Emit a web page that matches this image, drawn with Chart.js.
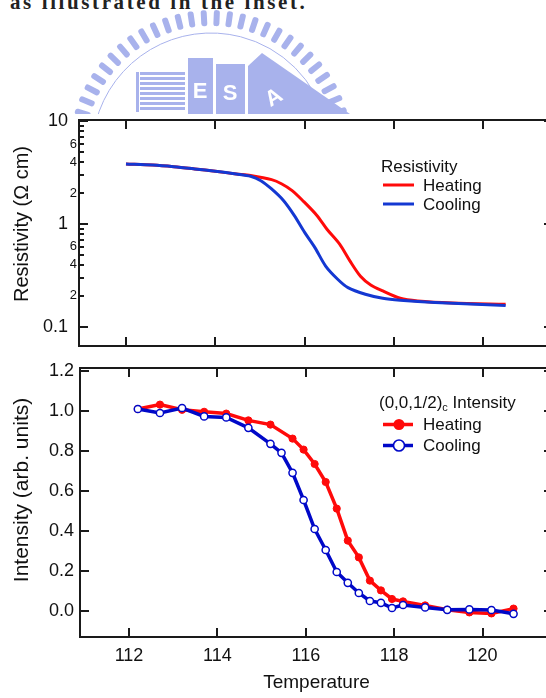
<!DOCTYPE html>
<html>
<head>
<meta charset="utf-8">
<script src="https://cdn.jsdelivr.net/npm/chart.js@4.4.1/dist/chart.umd.min.js"></script>
<style>
  html, body { margin: 0; padding: 0; background: #fff; overflow: hidden; }
  body { width: 546px; height: 698px; position: relative; }
  canvas { position: absolute; left: 0; }
  #caption {
    position: absolute; left: 10px; top: -10px; white-space: nowrap; letter-spacing: 2.6px;
    font: bold 21px "Liberation Serif", serif; color: #222;
  }
</style>
</head>
<body>
<div id="caption">as illustrated in the inset.</div>
<canvas id="logo" width="546" height="114" style="top:0"></canvas>
<canvas id="resChart" width="560" height="250" style="top:100px"></canvas>
<canvas id="intChart" width="560" height="338" style="top:360px"></canvas>

<script>
// ---- resistivity (upper panel) ----
const resHeatT = [112.0, 112.6, 113.07, 113.54, 114.0, 114.47, 114.79, 115.26, 115.49, 115.72, 115.96, 116.27, 116.5, 116.78, 117.01, 117.25, 117.48, 117.75, 118.14, 118.53, 119.31, 120.5];
const resHeat  = [3.86, 3.77, 3.63, 3.45, 3.27, 3.08, 2.97, 2.71, 2.46, 2.12, 1.69, 1.22, 0.89, 0.64, 0.44, 0.31, 0.255, 0.223, 0.189, 0.178, 0.170, 0.165];
const resCoolT = [112.0, 112.6, 113.07, 113.54, 114.0, 114.47, 114.79, 115.02, 115.26, 115.53, 115.77, 116.0, 116.23, 116.47, 116.74, 116.97, 117.36, 117.75, 118.14, 118.92, 120.5];
const resCool  = [3.86, 3.77, 3.63, 3.45, 3.27, 3.08, 2.93, 2.65, 2.20, 1.69, 1.21, 0.83, 0.59, 0.39, 0.29, 0.24, 0.207, 0.189, 0.181, 0.172, 0.161];

// ---- (0,0,1/2) intensity (lower panel) ----
const intHeatT = [112.2, 112.7, 113.2, 113.7, 114.2, 114.7, 115.2, 115.7, 115.95, 116.2, 116.45, 116.7, 116.95, 117.2, 117.45, 117.7, 117.95, 118.2, 118.7, 119.2, 119.7, 120.2, 120.7];
const intHeat  = [1.012, 1.034, 1.008, 0.998, 0.989, 0.955, 0.934, 0.864, 0.809, 0.737, 0.647, 0.514, 0.354, 0.270, 0.154, 0.105, 0.062, 0.050, 0.030, 0.008, -0.005, -0.010, 0.014];
const intCoolT = [112.2, 112.7, 113.2, 113.7, 114.2, 114.7, 115.2, 115.45, 115.7, 115.95, 116.2, 116.45, 116.7, 116.95, 117.2, 117.45, 117.7, 117.95, 118.2, 118.7, 119.2, 119.7, 120.2, 120.7];
const intCool  = [1.012, 0.992, 1.017, 0.975, 0.970, 0.918, 0.838, 0.793, 0.693, 0.557, 0.412, 0.307, 0.197, 0.143, 0.092, 0.052, 0.043, 0.017, 0.032, 0.020, 0.008, 0.010, 0.007, -0.012];

// ---- axes ----
const tempTicks = [112, 114, 116, 118, 120];
const resTicks = [0.1, 0.2, 0.3, 0.4, 0.5, 0.6, 0.7, 0.8, 0.9, 1, 2, 3, 4, 5, 6, 7, 8, 9, 10];
const resMajor = [0.1, 1, 10];
const resMinorLabels = [0.2, 0.4, 0.6, 2, 4, 6];
const intTicks = [0, 0.2, 0.4, 0.6, 0.8, 1.0, 1.2];

const RED = '#ff0a0a';
const BLUE_RES = '#1438d2';
const BLUE_INT = '#0008c8';
const INK = '#1a1a1a';
const FONT = "'Liberation Sans', Arial, sans-serif";

Chart.defaults.font.family = FONT;
Chart.defaults.color = '#111';
Chart.defaults.animation = false;

const pts = (xs, ys) => xs.map((x, i) => ({ x, y: ys[i] }));

// inward tick marks on all four sides plus the top frame line
const frameTicks = {
  id: 'frameTicks',
  afterDraw(chart) {
    const { ctx, chartArea: a, scales } = chart;
    ctx.save();
    ctx.strokeStyle = INK;
    ctx.lineWidth = 2;
    const seg = (x1, y1, x2, y2) => {
      ctx.beginPath(); ctx.moveTo(x1, y1); ctx.lineTo(x2, y2); ctx.stroke();
    };
    seg(a.left - 1, a.top, a.right, a.top);
    scales.x.ticks.forEach(t => {
      const px = Math.round(scales.x.getPixelForValue(t.value));
      seg(px, a.bottom, px, a.bottom - 9);
      seg(px, a.top, px, a.top + 9);
    });
    scales.y.ticks.forEach(t => {
      const py = Math.round(scales.y.getPixelForValue(t.value));
      const len = t.minor ? 5 : 9;
      seg(a.left, py, a.left + len, py);
      seg(a.right, py, a.right - len, py);
    });
    ctx.restore();
  }
};

function fixedWidth(w) {
  return (s) => { s.width = w; s.paddingTop = 0; s.paddingBottom = 0; };
}
function fixedHeight(h) {
  return (s) => { s.height = h; s.paddingLeft = 0; s.paddingRight = 0; };
}

function yTitle(chart, text, x, y, size) {
  const ctx = chart.ctx;
  ctx.save();
  ctx.translate(x, y);
  ctx.rotate(-Math.PI / 2);
  ctx.font = `${size}px ${FONT}`;
  ctx.fillStyle = '#111';
  ctx.textAlign = 'center';
  ctx.textBaseline = 'middle';
  ctx.fillText(text, 0, 0);
  ctx.restore();
}

// ---------------- upper panel ----------------
const resLegend = {
  id: 'resLegend',
  afterDraw(chart) {
    const ctx = chart.ctx;
    yTitle(chart, 'Resistivity (\u03A9 cm)', 22, 124, 20);
    ctx.save();
    ctx.font = `17px ${FONT}`;
    ctx.fillStyle = '#111';
    ctx.textBaseline = 'middle';
    ctx.fillText('Resistivity', 381, 67);
    ctx.fillText('Heating', 423, 86);
    ctx.fillText('Cooling', 423, 105);
    ctx.lineWidth = 3;
    ctx.strokeStyle = RED;
    ctx.beginPath(); ctx.moveTo(383, 85); ctx.lineTo(414, 85); ctx.stroke();
    ctx.strokeStyle = BLUE_RES;
    ctx.beginPath(); ctx.moveTo(383, 104); ctx.lineTo(414, 104); ctx.stroke();
    ctx.restore();
  }
};

new Chart(document.getElementById('resChart'), {
  type: 'line',
  data: {
    datasets: [
      { label: 'Cooling', data: pts(resCoolT, resCool), borderColor: BLUE_RES, borderWidth: 3, pointRadius: 0, tension: 0.3 },
      { label: 'Heating', data: pts(resHeatT, resHeat), borderColor: RED, borderWidth: 3, pointRadius: 0, tension: 0.3 }
    ]
  },
  options: {
    responsive: false,
    layout: { padding: { top: 20, right: 7, left: 0, bottom: 0 } },
    plugins: { legend: { display: false }, tooltip: { enabled: false } },
    scales: {
      x: {
        type: 'linear', min: 110.948, max: 121.561,
        afterBuildTicks: (s) => { s.ticks = tempTicks.map(v => ({ value: v })); },
        afterFit: fixedHeight(4),
        ticks: { display: false },
        grid: { display: false, drawTicks: false },
        border: { display: true, color: INK, width: 2 }
      },
      y: {
        type: 'logarithmic', min: 0.0648, max: 10.34,
        afterBuildTicks: (s) => {
          s.ticks = resTicks.map(v => ({ value: v, minor: !resMajor.includes(v) }));
        },
        afterFit: fixedWidth(79),
        ticks: {
          autoSkip: false,
          padding: 2,
          callback: (v) => {
            if (resMajor.includes(v)) return String(v) + '\u2002';
            if (resMinorLabels.includes(v)) return String(v < 1 ? Math.round(v * 10) : v);
            return '';
          },
          font: (c) => ({ size: c.tick && resMajor.includes(c.tick.value) ? 18 : 13 })
        },
        grid: { display: false, drawTicks: false },
        border: { display: true, color: INK, width: 2 }
      }
    }
  },
  plugins: [frameTicks, resLegend]
});

// ---------------- lower panel ----------------
const intLegend = {
  id: 'intLegend',
  afterDraw(chart) {
    const ctx = chart.ctx;
    yTitle(chart, 'Intensity (arb. units)', 22, 130, 21);
    ctx.save();
    ctx.fillStyle = '#111';
    ctx.textBaseline = 'middle';
    ctx.font = `17px ${FONT}`;
    let x = 379;
    ctx.fillText('(0,0,1/2)', x, 43);
    x += ctx.measureText('(0,0,1/2)').width;
    ctx.font = `11px ${FONT}`;
    ctx.fillText('c', x, 48);
    x += ctx.measureText('c').width;
    ctx.font = `17px ${FONT}`;
    ctx.fillText(' Intensity', x, 43);
    ctx.fillText('Heating', 423, 65);
    ctx.fillText('Cooling', 423, 86);

    ctx.lineWidth = 3.5;
    ctx.strokeStyle = RED;
    ctx.beginPath(); ctx.moveTo(383, 64.5); ctx.lineTo(413, 64.5); ctx.stroke();
    ctx.fillStyle = RED;
    ctx.beginPath(); ctx.arc(399, 64.5, 5.5, 0, Math.PI * 2); ctx.fill();

    ctx.strokeStyle = BLUE_INT;
    ctx.beginPath(); ctx.moveTo(383, 85.5); ctx.lineTo(413, 85.5); ctx.stroke();
    ctx.fillStyle = '#fff';
    ctx.lineWidth = 1.6;
    ctx.beginPath(); ctx.arc(399, 85.5, 5.5, 0, Math.PI * 2); ctx.fill(); ctx.stroke();
    ctx.restore();
  }
};

new Chart(document.getElementById('intChart'), {
  type: 'line',
  data: {
    datasets: [
      {
        label: 'Cooling', data: pts(intCoolT, intCool),
        borderColor: BLUE_INT, borderWidth: 3.5,
        pointRadius: 3.6, pointBackgroundColor: '#fff', pointBorderColor: BLUE_INT, pointBorderWidth: 1.5
      },
      {
        label: 'Heating', data: pts(intHeatT, intHeat),
        borderColor: RED, borderWidth: 3.5,
        pointRadius: 3.6, pointBackgroundColor: RED, pointBorderColor: RED, pointBorderWidth: 1
      }
    ]
  },
  options: {
    responsive: false,
    layout: { padding: { top: 8, right: 7, left: 0, bottom: 0 } },
    plugins: { legend: { display: false }, tooltip: { enabled: false } },
    scales: {
      x: {
        type: 'linear', min: 110.891, max: 121.593,
        afterBuildTicks: (s) => { s.ticks = tempTicks.map(v => ({ value: v })); },
        afterFit: fixedHeight(61),
        ticks: { padding: 8, font: { size: 18 }, maxRotation: 0 },
        grid: { display: false, drawTicks: false },
        border: { display: true, color: INK, width: 2 },
        title: { display: true, text: 'Temperature', font: { size: 19 }, padding: { top: 0, bottom: 4 } }
      },
      y: {
        min: -0.128, max: 1.217,
        afterBuildTicks: (s) => { s.ticks = intTicks.map(v => ({ value: v })); },
        afterFit: fixedWidth(80),
        ticks: { padding: 6, font: { size: 18 }, callback: (v) => v.toFixed(1) },
        grid: { display: false, drawTicks: false },
        border: { display: true, color: INK, width: 2 }
      }
    }
  },
  plugins: [frameTicks, intLegend]
});

// ---------------- faint seal printed above the figure ----------------
(function drawSeal() {
  const ctx = document.getElementById('logo').getContext('2d');
  const col = 'rgb(168,178,236)';
  const cx = 211, cy = 152;
  ctx.filter = 'blur(0.7px)';
  ctx.fillStyle = col;
  ctx.strokeStyle = col;
  for (let deg = 12; deg <= 168; deg += 5.4) {
    const a = deg * Math.PI / 180;
    ctx.save();
    ctx.translate(cx + 134 * Math.cos(a), cy - 134 * Math.sin(a));
    ctx.rotate(-a);
    ctx.beginPath();
    ctx.roundRect(-8, -3, 16, 6, 2.5);
    ctx.fill();
    ctx.restore();
  }
  ctx.lineWidth = 1;
  ctx.beginPath();
  ctx.arc(cx, cy, 119, Math.PI * 1.08, Math.PI * 1.92);
  ctx.stroke();

  // striped block
  for (let y = 72; y < 112; y += 5) ctx.fillRect(140, y, 45, 3);
  ctx.fillRect(136, 72, 3, 40);
  // tall blocks with letters
  ctx.fillRect(188, 58, 25, 56);
  ctx.fillRect(216, 64, 29, 50);
  ctx.beginPath();
  ctx.moveTo(248, 66); ctx.lineTo(262, 53); ctx.lineTo(350, 114); ctx.lineTo(248, 114);
  ctx.closePath(); ctx.fill();
  ctx.fillStyle = '#fff';
  ctx.font = `bold 22px ${FONT}`;
  ctx.textAlign = 'center';
  ctx.textBaseline = 'middle';
  ctx.fillText('E', 200, 92);
  ctx.fillText('S', 230, 94);
  ctx.save();
  ctx.translate(274, 98);
  ctx.rotate(-0.55);
  ctx.fillText('A', 0, 0);
  ctx.restore();
})();
</script>
</body>
</html>
